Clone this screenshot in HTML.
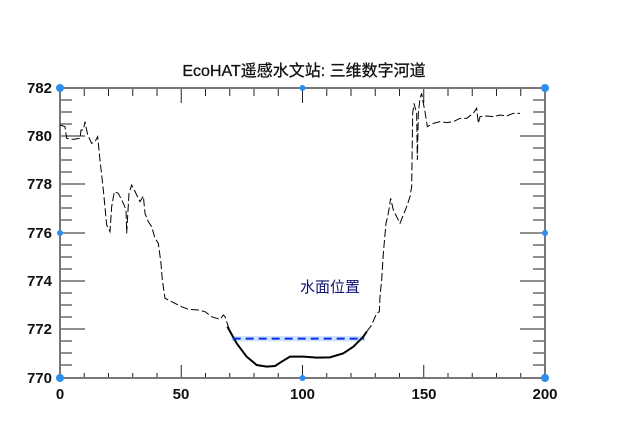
<!DOCTYPE html>
<html><head><meta charset="utf-8"><style>
html,body{margin:0;padding:0;background:#fff;}
svg{display:block;}
text{font-family:"Liberation Sans","Noto Sans CJK SC",sans-serif;}
</style></head><body>
<svg width="628" height="442" viewBox="0 0 628 442" xmlns="http://www.w3.org/2000/svg">
<text x="304" y="76" text-anchor="middle" font-size="16" fill="#111" stroke="#111" stroke-width="0.3">EcoHAT遥感水文站: 三维数字河道</text>
<g id="ticks" stroke="#222" stroke-width="1">
<path d="M84.25,378v-5M108.5,378v-5M132.75,378v-5M157,378v-5M181.25,378v-13M205.5,378v-5M229.75,378v-5M254,378v-5M278.25,378v-5M302.5,378v-13M326.75,378v-5M351,378v-5M375.25,378v-5M399.5,378v-5M423.75,378v-13M448,378v-5M472.25,378v-5M496.5,378v-5M520.75,378v-5"/>
<path d="M84.25,88v8M108.5,88v8M132.75,88v8M157,88v8M181.25,88v15M205.5,88v8M229.75,88v8M254,88v8M278.25,88v8M302.5,88v15M326.75,88v8M351,88v8M375.25,88v8M399.5,88v8M423.75,88v15M448,88v8M472.25,88v8M496.5,88v8M520.75,88v8"/>
<path d="M60,100h12M60,112h12M60,124h12M60,136h25M60,148h12M60,160h12M60,172h12M60,184h25M60,196h12M60,208h12M60,220h12M60,233h25M60,245h12M60,257h12M60,269h12M60,281h25M60,293h12M60,305h12M60,317h12M60,329h25M60,341h12M60,353h12M60,365h12"/>
<path d="M545,100h-12M545,112h-12M545,124h-12M545,136h-25M545,148h-12M545,160h-12M545,172h-12M545,184h-25M545,196h-12M545,208h-12M545,220h-12M545,233h-25M545,245h-12M545,257h-12M545,269h-12M545,281h-25M545,293h-12M545,305h-12M545,317h-12M545,329h-25M545,341h-12M545,353h-12M545,365h-12"/>
</g>
<rect x="60" y="88" width="485" height="290" fill="none" stroke="#777" stroke-width="2"/>
<g fill="#2b8ef0">
<circle cx="60" cy="88" r="4"/><circle cx="545" cy="88" r="4"/><circle cx="60" cy="378" r="4"/><circle cx="545" cy="378" r="4"/>
<circle cx="302.5" cy="88" r="3"/><circle cx="302.5" cy="378" r="3"/><circle cx="60" cy="233" r="3"/><circle cx="545" cy="233" r="3"/>
</g>
<g font-size="15" font-weight="bold" fill="#111">
<text x="52" y="93" text-anchor="end">782</text>
<text x="52" y="141" text-anchor="end">780</text>
<text x="52" y="189" text-anchor="end">778</text>
<text x="52" y="238" text-anchor="end">776</text>
<text x="52" y="286" text-anchor="end">774</text>
<text x="52" y="334" text-anchor="end">772</text>
<text x="52" y="383" text-anchor="end">770</text>
<text x="60" y="399" text-anchor="middle">0</text>
<text x="181" y="399" text-anchor="middle">50</text>
<text x="302.5" y="399" text-anchor="middle">100</text>
<text x="424" y="399" text-anchor="middle">150</text>
<text x="545" y="399" text-anchor="middle">200</text>
</g>
<g transform="translate(55,80) scale(0.33333)" fill="none">
<polyline vector-effect="non-scaling-stroke" stroke="#000" stroke-width="1" stroke-dasharray="8,3" points="15,135 30,140 35,175 55,178 75,175 78,150 85,150 90,125 98,165 110,190 120,185 128,170 135,240 145,330 155,435 165,455 170,380 178,335 190,340 205,370 213,390 215,460 222,340 230,315 238,330 245,345 255,365 265,348 270,400 280,425 290,440 300,475 310,490 318,550 322,600 330,655 350,665 380,680 400,688 430,690 450,695 470,710 485,715 495,718 505,705 510,710 520,740 530,763"/>
</g>
<g transform="translate(220,80) scale(0.33333)" fill="none">
<rect x="35" y="768" width="400" height="16" fill="#cfe4fb"/>
<polyline vector-effect="non-scaling-stroke" stroke="#000" stroke-width="2" points="22,740 50,790 80,830 110,855 140,860 165,858 185,845 210,830 250,830 290,833 330,832 370,820 400,800 430,770 440,755"/>
<line vector-effect="non-scaling-stroke" x1="38" y1="776" x2="432" y2="776" stroke="#0a2cf0" stroke-width="2" stroke-dasharray="8,5"/>
<polyline vector-effect="non-scaling-stroke" stroke="#000" stroke-width="1" stroke-dasharray="8,3" points="440,755 455,735 470,700 478,695 480,650 485,600 490,520 498,430 505,400 512,355 520,390 530,410 540,430 550,405 560,380 570,350 575,320 578,100 582,70 590,100 592,240 595,100 600,55 605,40 610,70 615,95 622,140 640,130 660,125 680,128 700,125 720,115 740,115 760,100 770,85 775,130 780,110 800,108 820,110 840,105 860,108 880,100 900,100"/>
</g>
<text x="330" y="292" text-anchor="middle" font-size="15" fill="#101070">水面位置</text>
</svg>
</body></html>
